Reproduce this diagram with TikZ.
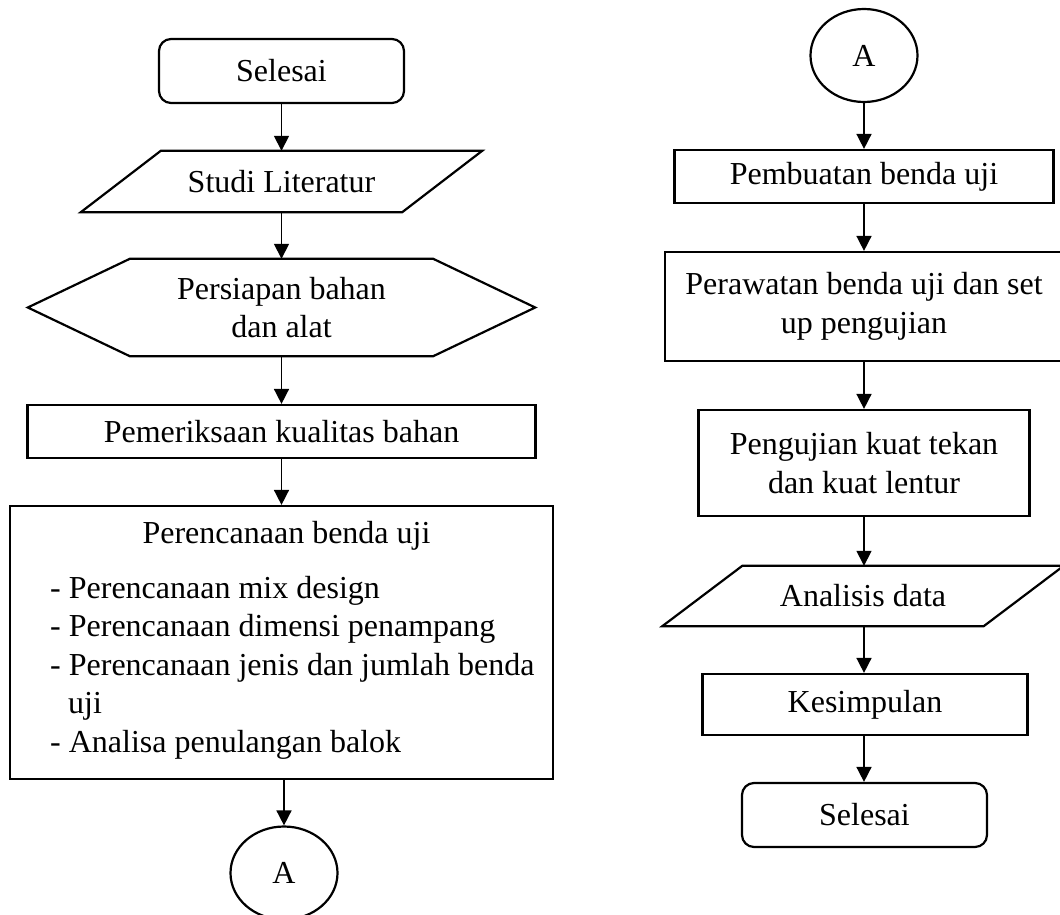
\documentclass[tikz,border=0pt]{standalone}
\usepackage{fontspec}
\setmainfont{Liberation Serif}
\usetikzlibrary{shapes.geometric,arrows.meta}
\begin{document}
\begin{tikzpicture}[x=1pt,y=-1pt,
  font=\fontsize{32}{38.5}\selectfont,
  box/.style={draw,line width=2.2pt,rectangle,inner sep=0pt,align=center},
  term/.style={box,rounded corners=12pt},
  blank/.style={rectangle,inner sep=0pt,align=center},
  conn/.style={ellipse,draw,line width=2.2pt,inner sep=0pt,minimum width=107pt,minimum height=93pt},
  arr/.style={line width=1.6pt,-{Triangle[width=15pt,length=15pt]}},
  shapeline/.style={line width=2.2pt,line join=miter},
  txt/.style={inner sep=0pt,anchor=base west}
]
\useasboundingbox (0,0) rectangle (1060,915);

% ---------- left column ----------
\node[term,minimum width=245pt,minimum height=64pt] (s1) at (281.5,71) {Selesai};

\node[blank,minimum width=321pt,minimum height=61pt] (lit) at (281.5,181.5) {Studi Literatur};
\draw[shapeline] ([xshift=40pt]lit.north west) -- ([xshift=40pt]lit.north east)
  -- ([xshift=-40pt]lit.south east) -- ([xshift=-40pt]lit.south west) -- cycle;

\node[blank,minimum width=303pt,minimum height=97pt] (prep) at (281.5,307.5) {Persiapan bahan\\dan alat};
\draw[shapeline] (prep.north west) -- (prep.north east) -- ([xshift=102pt]prep.east)
  -- (prep.south east) -- (prep.south west) -- ([xshift=-102pt]prep.west) -- cycle;

\node[box,minimum width=508pt,minimum height=53pt] (cek) at (281.5,431.5) {Pemeriksaan kualitas bahan};

\node[box,minimum width=543pt,minimum height=273pt] (plan) at (281.5,642.5) {};
\node[inner sep=0pt,anchor=base] (planh) at (286.5,543) {Perencanaan benda uji};
\node[txt] (pl1) at (50,598) {- Perencanaan mix design};
\node[txt] (pl2) at (50,636.5) {- Perencanaan dimensi penampang};
\node[txt] (pl3) at (50,675) {- Perencanaan jenis dan jumlah benda};
\node[txt] (pl4) at (68,713.5) {uji};
\node[txt] (pl5) at (50,752) {- Analisa penulangan balok};

\node[conn] (a1) at (284,873) {A};

\draw[arr] (s1.south) -- (lit.north);
\draw[arr] (lit.south) -- (prep.north);
\draw[arr] (prep.south) -- (cek.north);
\draw[arr] (cek.south) -- (plan.north);
\draw[arr] (a1.north |- plan.south) -- (a1.north);

% ---------- right column ----------
\node[conn] (a2) at (864,55.5) {A};
\node[box,minimum width=379pt,minimum height=53pt] (buat) at (864,176.5) {Pembuatan benda uji};
\node[box,minimum width=398pt,minimum height=109pt] (rawat) at (864,306.5) {Perawatan benda uji dan set\\up pengujian};
\node[box,minimum width=331pt,minimum height=106pt] (uji) at (864,463) {Pengujian kuat tekan\\dan kuat lentur};

\node[blank,minimum width=321pt,minimum height=60pt] (anl) at (863,596) {Analisis data};
\draw[shapeline] ([xshift=40pt]anl.north west) -- ([xshift=40pt]anl.north east)
  -- ([xshift=-40pt]anl.south east) -- ([xshift=-40pt]anl.south west) -- cycle;

\node[box,minimum width=325pt,minimum height=61pt] (kes) at (865,704.5) {Kesimpulan};
\node[term,minimum width=245pt,minimum height=64pt] (s2) at (864.5,815) {Selesai};

\draw[arr] (a2.south) -- (buat.north);
\draw[arr] (buat.south) -- (rawat.north);
\draw[arr] (rawat.south) -- (uji.north);
\draw[arr] (uji.south) -- (uji.south |- anl.north);
\draw[arr] (uji.south |- anl.south) -- (uji.south |- kes.north);
\draw[arr] (uji.south |- kes.south) -- (uji.south |- s2.north);
\end{tikzpicture}
\end{document}
